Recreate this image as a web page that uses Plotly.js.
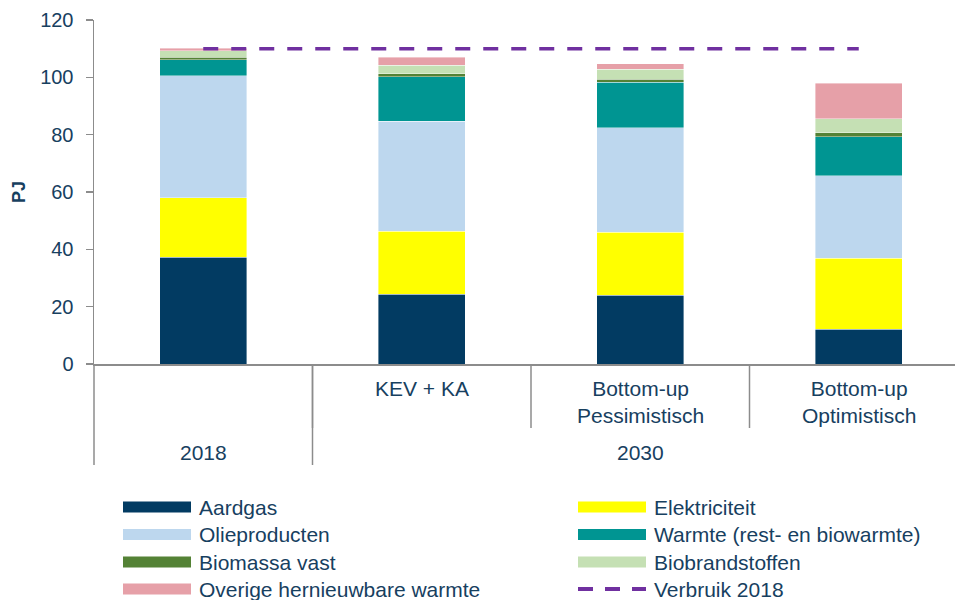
<!DOCTYPE html>
<html>
<head>
<meta charset="utf-8">
<script src="https://cdn.plot.ly/plotly-3.0.1.min.js"></script>
<style>html,body{margin:0;padding:0;background:#fff;}#chart{width:955px;height:600px;}</style>
</head>
<body>
<div id="chart"></div>
<script>
// ---- data ----
var groupLabels = ["2018", "2030", "2030", "2030"];
var subLabels = ["", "KEV + KA", "Bottom-up<br>Pessimistisch", "Bottom-up<br>Optimistisch"];
var seriesNames = ["Aardgas", "Elektriciteit", "Olieproducten", "Warmte (rest- en biowarmte)", "Biomassa vast", "Biobrandstoffen", "Overige hernieuwbare warmte"];
var aardgas = [37.2, 24.3, 24.0, 12.2];
var elektriciteit = [20.8, 22.0, 22.0, 24.7];
var olieproducten = [42.6, 38.4, 36.5, 28.8];
var warmte = [5.5, 15.5, 15.7, 13.6];
var biomassaVast = [0.9, 1.1, 1.2, 1.4];
var biobrandstoffen = [2.3, 3.0, 3.5, 4.8];
var overige = [0.8, 2.7, 1.8, 12.4];
var verbruikName = "Verbruik 2018";
var verbruik2018 = [110, 110, 110, 110];
var yTicks = [0, 20, 40, 60, 80, 100, 120];

// ---- styles ----
var colors = ["#023B62", "#FFFF00", "#BDD7EE", "#009592", "#548235", "#C5E0B4", "#E6A0A8"];
var lineColor = "#7030A0";
var textColor = "#17405F";
var axisGray = "#8C8C8C";
var FONT = "Arial, 'Liberation Sans', sans-serif";

var W = 955, H = 600, ML = 94, MR = 0, MT = 20, MB = 236;
var plotW = W - ML - MR, plotH = H - MT - MB;
var catPx = 218.5;
function px2x(px) { return (px - ML) / plotW; }
function py2y(py) { return (H - MB - py) / plotH; }

var xs = [0, 1, 2, 3];
var seriesVals = [aardgas, elektriciteit, olieproducten, warmte, biomassaVast, biobrandstoffen, overige];

var traces = seriesVals.map(function (vals, i) {
  return {
    type: "bar", x: xs, y: vals, name: seriesNames[i],
    marker: { color: colors[i], line: { color: "rgba(255,255,255,0.5)", width: 0.8 } },
    width: 0.4, showlegend: false, hoverinfo: "y+name"
  };
});
traces.push({
  type: "scatter", mode: "lines", x: xs, y: verbruik2018, name: verbruikName,
  line: { color: lineColor, width: 3.5, dash: "15px,13px" }, showlegend: false
});

var shapes = [];
var annotations = [];
var lineStyle = { color: axisGray, width: 1.5 };
// left extension of axis
shapes.push({ type: "line", xref: "paper", yref: "paper", x0: 0, x1: 0, y0: 0, y1: py2y(465), line: lineStyle });
// sub dividers
[0.5, 1.5, 2.5].forEach(function (xv) {
  shapes.push({ type: "line", xref: "x", yref: "paper", x0: xv, x1: xv, y0: 0, y1: py2y(428), line: lineStyle });
});
// group divider
shapes.push({ type: "line", xref: "x", yref: "paper", x0: 0.5, x1: 0.5, y0: 0, y1: py2y(465), line: lineStyle });

// sub labels
subLabels.forEach(function (lab, i) {
  if (!lab) return;
  annotations.push({ xref: "x", yref: "paper", x: xs[i], y: py2y(375), yanchor: "top", xanchor: "center",
    text: lab, showarrow: false, font: { family: FONT, size: 21, color: textColor } });
});
// group labels (center of each group)
var seen = {};
groupLabels.forEach(function (g, i) {
  if (!seen[g]) seen[g] = [];
  seen[g].push(xs[i]);
});
Object.keys(seen).forEach(function (g) {
  var arr = seen[g];
  var c = (arr[0] + arr[arr.length - 1]) / 2;
  annotations.push({ xref: "x", yref: "paper", x: c, y: py2y(452), yanchor: "middle", xanchor: "center",
    text: g, showarrow: false, font: { family: FONT, size: 21, color: textColor } });
});

// manual legend: column order as in reference
var legendItems = [
  { name: seriesNames[0], color: colors[0], col: 0, row: 0 },
  { name: seriesNames[1], color: colors[1], col: 1, row: 0 },
  { name: seriesNames[2], color: colors[2], col: 0, row: 1 },
  { name: seriesNames[3], color: colors[3], col: 1, row: 1 },
  { name: seriesNames[4], color: colors[4], col: 0, row: 2 },
  { name: seriesNames[5], color: colors[5], col: 1, row: 2 },
  { name: seriesNames[6], color: colors[6], col: 0, row: 3 },
  { name: verbruikName, color: lineColor, col: 1, row: 3, dashed: true }
];
var colSymX = [123, 578], colTextX = [197, 652], rowY = [507, 534.5, 562, 589];
legendItems.forEach(function (it) {
  var x0 = colSymX[it.col], x1 = x0 + 68, yc = rowY[it.row];
  if (it.dashed) {
    shapes.push({ type: "line", xref: "paper", yref: "paper", x0: px2x(x0), x1: px2x(x1), y0: py2y(yc), y1: py2y(yc),
      line: { color: it.color, width: 4, dash: "15px,12px" } });
  } else {
    shapes.push({ type: "rect", xref: "paper", yref: "paper", x0: px2x(x0), x1: px2x(x1), y0: py2y(yc - 5.5), y1: py2y(yc + 5.5),
      fillcolor: it.color, line: { width: 0 } });
  }
  annotations.push({ xref: "paper", yref: "paper", x: px2x(colTextX[it.col]), y: py2y(yc), xanchor: "left", yanchor: "middle",
    text: it.name, showarrow: false, font: { family: FONT, size: 21, color: textColor } });
});

var layout = {
  width: W, height: H,
  margin: { l: ML, r: MR, t: MT, b: MB, pad: 0 },
  paper_bgcolor: "#fff", plot_bgcolor: "#fff",
  barmode: "stack",
  showlegend: false,
  font: { family: FONT, color: textColor, size: 20 },
  xaxis: {
    range: [-0.5, -0.5 + plotW / catPx], showticklabels: false, ticks: "", showgrid: false, zeroline: false,
    showline: true, linecolor: axisGray, linewidth: 1.5, fixedrange: true
  },
  yaxis: {
    range: [0, 120], tickvals: yTicks, ticktext: yTicks.map(String), showgrid: false, zeroline: false,
    showline: true, linecolor: axisGray, linewidth: 1.5, ticks: "outside", ticklen: 7, tickcolor: axisGray, tickwidth: 1.5,
    ticklabelstandoff: 8,
    tickfont: { family: FONT, size: 20, color: textColor },
    title: { text: "<b>PJ</b>", font: { family: FONT, size: 18, color: textColor }, standoff: 10 },
    fixedrange: true
  },
  shapes: shapes,
  annotations: annotations
};

Plotly.newPlot("chart", traces, layout, { displayModeBar: false, staticPlot: true });
</script>
</body>
</html>
